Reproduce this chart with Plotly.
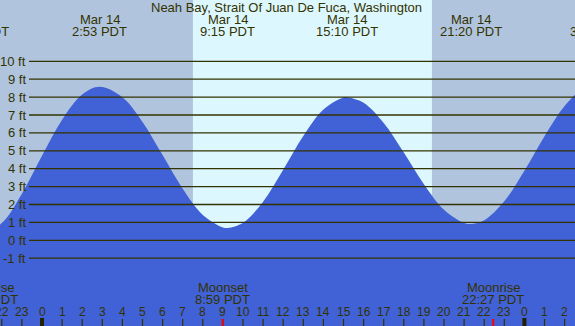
import plotly.graph_objects as go

# ---- data (hours relative to Mar 14 00:00 PDT, heights in ft) ----
curve_hours = [-3.18, -2, -1, 0, 1, 2, 2.88, 4, 5, 6, 7, 8, 9, 9.25, 10, 11, 12, 13, 14, 15,
               15.167, 16, 17, 18, 19, 20, 21, 21.333, 22, 23, 24, 25, 26, 27, 27.65]
curve_ft = [0.2, 0.96, 2.60, 4.72, 6.74, 8.15, 8.58, 7.99, 6.61, 4.76, 2.88, 1.42, 0.72, 0.69,
            0.98, 2.16, 3.94, 5.83, 7.31, 7.98, 7.99, 7.68, 6.55, 4.90, 3.13, 1.70, 0.96, 0.91,
            1.12, 2.18, 3.88, 5.81, 7.50, 8.55, 8.75]

tide_hours = [-3.18, 2.883, 9.25, 15.167, 21.333, 27.65]
tide_dates = ["Mar 13", "Mar 14", "Mar 14", "Mar 14", "Mar 14", "Mar 15"]
tide_times = ["20:49 PDT", "2:53 PDT", "9:15 PDT", "15:10 PDT", "21:20 PDT", "3:39 PDT"]

moon_hours = [-2.73, 8.983, 22.45]
moon_events = ["Moonrise", "Moonset", "Moonrise"]
moon_times = ["21:16 PDT", "8:59 PDT", "22:27 PDT"]

sunrise_hour = 7.51
sunset_hour = 19.40

ft_levels = [-1, 0, 1, 2, 3, 4, 5, 6, 7, 8, 9, 10]
ft_labels = [f"{v} ft" for v in ft_levels]

hour_ticks = list(range(-2, 27))
hour_labels = [str(h % 24) for h in hour_ticks]

title = "Neah Bay, Strait Of Juan De Fuca, Washington"

# ---- style ----
W, H = 575, 326
XMIN, XMAX = -2.0896, 26.517
YMIN, YMAX = -4.788, 13.425
NIGHT = "#B0C4DE"
DAY = "#DDF7FF"
WATER = "#4161D6"
INK = "#333300"
FONT = "Liberation Sans, Arial, sans-serif"


def xpaper(h):
    return (h - XMIN) / (XMAX - XMIN)


def ypaper(px):
    return 1 - px / H


fig = go.Figure()
fig.add_trace(go.Scatter(x=[-5, 30], y=[-10, -10], mode="lines",
                         line=dict(width=0, color=WATER), hoverinfo="skip", showlegend=False))
fig.add_trace(go.Scatter(x=curve_hours, y=curve_ft, mode="lines", fill="tonexty",
                         fillcolor=WATER, line=dict(width=0, color=WATER, shape="spline", smoothing=1.0),
                         hoverinfo="skip", showlegend=False))

shapes = []
# daylight band
shapes.append(dict(type="rect", xref="x", yref="paper", x0=sunrise_hour, x1=sunset_hour,
                   y0=0, y1=1, fillcolor=DAY, line=dict(width=0), layer="below"))
# grid lines
for v in ft_levels:
    shapes.append(dict(type="line", xref="paper", yref="y", x0=29 / W, x1=1, y0=v, y1=v,
                       line=dict(color=INK, width=1.3), layer="above"))
# hour ticks
for h in hour_ticks:
    mid = (h % 24 == 0)
    shapes.append(dict(type="line", xref="x", yref="paper", x0=h, x1=h,
                       y0=0, y1=(8 if mid else 7) / H,
                       line=dict(color="#222200" if mid else INK, width=4 if mid else 1.2),
                       layer="above"))
# moon event ticks
for h in moon_hours:
    shapes.append(dict(type="line", xref="x", yref="paper", x0=h, x1=h, y0=0, y1=7 / H,
                       line=dict(color="#FF0000", width=2), layer="above"))

ann = []
ann.append(dict(text=title, xref="paper", yref="paper", x=0.498, y=ypaper(7.3),
                showarrow=False, xanchor="center", yanchor="middle",
                font=dict(family=FONT, size=13, color=INK)))
for h, d, t in zip(tide_hours, tide_dates, tide_times):
    ann.append(dict(text=d, xref="paper", yref="paper", x=xpaper(h), y=ypaper(19.3),
                    showarrow=False, xanchor="center", yanchor="middle",
                    font=dict(family=FONT, size=13, color=INK)))
    ann.append(dict(text=t, xref="paper", yref="paper", x=xpaper(h), y=ypaper(31.7),
                    showarrow=False, xanchor="center", yanchor="middle",
                    font=dict(family=FONT, size=13, color=INK)))
for h, e, t in zip(moon_hours, moon_events, moon_times):
    ann.append(dict(text=e, xref="paper", yref="paper", x=xpaper(h), y=ypaper(287.3),
                    showarrow=False, xanchor="center", yanchor="middle",
                    font=dict(family=FONT, size=13, color=INK)))
    ann.append(dict(text=t, xref="paper", yref="paper", x=xpaper(h), y=ypaper(299.3),
                    showarrow=False, xanchor="center", yanchor="middle",
                    font=dict(family=FONT, size=13, color=INK)))
for v, lab in zip(ft_levels, ft_labels):
    ann.append(dict(text=lab, xref="paper", yref="y", x=28 / W, y=v,
                    showarrow=False, xanchor="right", yanchor="middle",
                    font=dict(family=FONT, size=13, color=INK)))
for h, lab in zip(hour_ticks, hour_labels):
    ann.append(dict(text=lab, xref="x", yref="paper", x=h, y=ypaper(311.7),
                    showarrow=False, xanchor="center", yanchor="middle",
                    font=dict(family=FONT, size=12, color=INK)))

fig.update_layout(
    width=W, height=H, margin=dict(l=0, r=0, t=0, b=0),
    paper_bgcolor=NIGHT, plot_bgcolor=NIGHT,
    xaxis=dict(range=[XMIN, XMAX], visible=False, fixedrange=True),
    yaxis=dict(range=[YMIN, YMAX], visible=False, fixedrange=True),
    shapes=shapes, annotations=ann, showlegend=False,
)

fig.write_html("out.html", config={"displayModeBar": False},
               post_script="document.body.style.margin='0';document.body.style.overflow='hidden';")
